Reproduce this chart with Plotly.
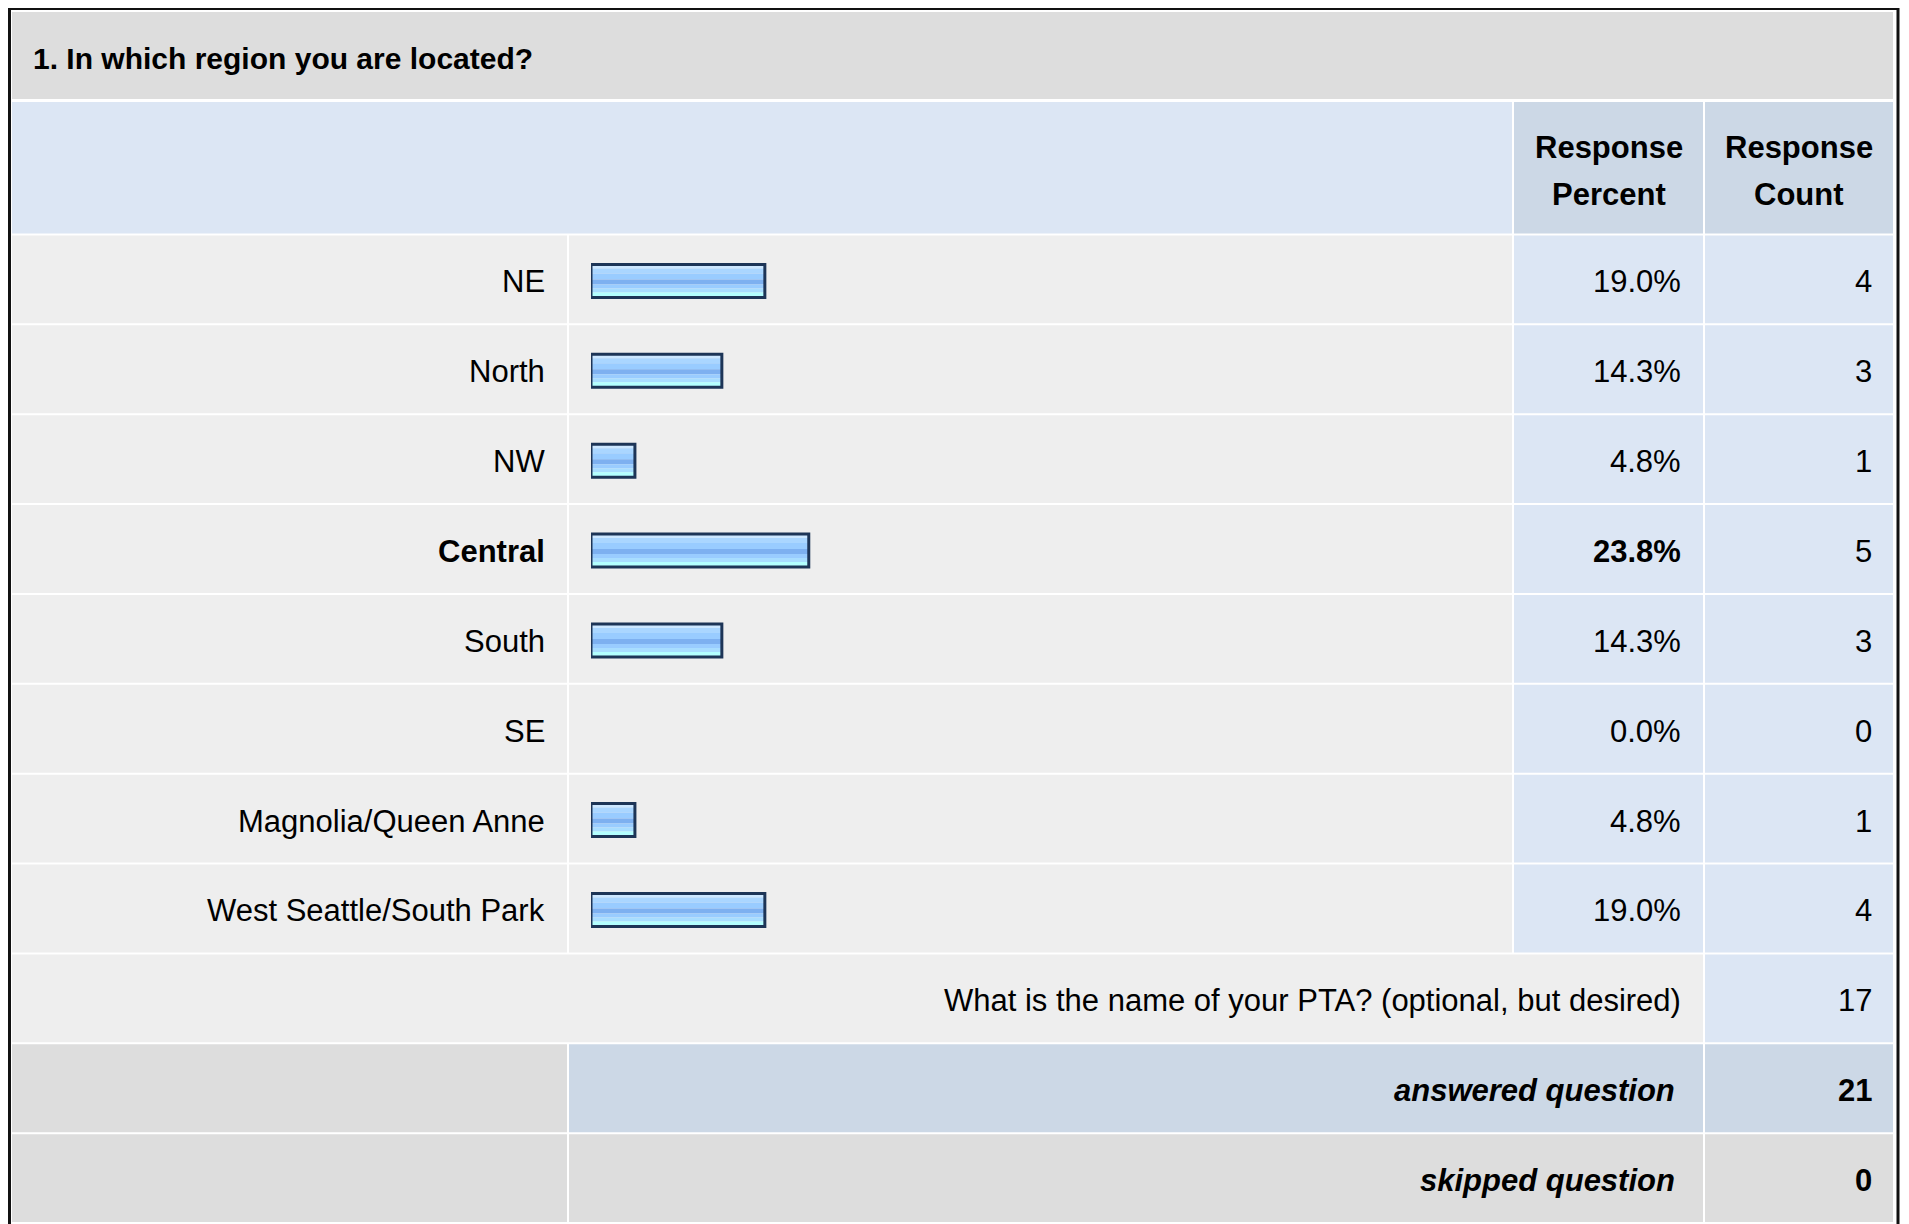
import plotly.graph_objects as go

# ---------------- data ----------------
title_text = "1. In which region you are located?"
header_percent = ["Response", "Percent"]
header_count = ["Response", "Count"]
categories = ["NE", "North", "NW", "Central", "South", "SE",
              "Magnolia/Queen Anne", "West Seattle/South Park"]
percent = [19.0, 14.3, 4.8, 23.8, 14.3, 0.0, 4.8, 19.0]
counts = [4, 3, 1, 5, 3, 0, 1, 4]
pta_question = "What is the name of your PTA? (optional, but desired)"
pta_count = 17
answered_label = "answered question"
answered_count = 21
skipped_label = "skipped question"
skipped_count = 0

# ---------------- geometry / style ----------------
WIN_W, WIN_H = 1909, 1224
OFF = 8  # default page body margin
W, H = WIN_W - OFF, WIN_H - OFF
FONT = "Liberation Sans, Arial, Helvetica, sans-serif"
FS = 31
FS_TITLE = 30

TITLE_BG = "#DDDDDD"
HEAD_BG = "#DCE6F4"
HEAD_DARK = "#CCD8E6"
ROW_BG = "#EEEEEE"
VAL_BG = "#DCE6F4"
GRAY = "#DDDDDD"
NAVY = "#1D3557"

colA = (12, 567)
colB = (569, 1512)
colC = (1514, 1703)
colD = (1705, 1893)

b0 = 234.5
step = (1223 - b0) / 11
bounds = [b0 + k * step for k in range(12)]

shapes = []


def px(x):
    return (x - OFF) / W


def py(y):
    return 1 - (y - OFF) / H


def cell(x0, x1, y0, y1, color):
    shapes.append(dict(type="rect", xref="paper", yref="paper",
                       x0=px(x0), x1=px(x1), y0=py(y1), y1=py(y0),
                       line=dict(width=0), fillcolor=color, layer="below"))


# title row
cell(12, 1893, 12, 99, TITLE_BG)
# header row
cell(colA[0], colB[1], 102, 233.5, HEAD_BG)
cell(colC[0], colC[1], 102, 233.5, HEAD_DARK)
cell(colD[0], colD[1], 102, 233.5, HEAD_DARK)

n = len(categories)
for i in range(n):
    y0, y1 = bounds[i] + 1, bounds[i + 1] - 1
    cell(colA[0], colA[1], y0, y1, ROW_BG)
    cell(colB[0], colB[1], y0, y1, ROW_BG)
    cell(colC[0], colC[1], y0, y1, VAL_BG)
    cell(colD[0], colD[1], y0, y1, VAL_BG)

# PTA row
y0, y1 = bounds[n] + 1, bounds[n + 1] - 1
cell(colA[0], colC[1], y0, y1, ROW_BG)
cell(colD[0], colD[1], y0, y1, VAL_BG)
# answered row
y0, y1 = bounds[n + 1] + 1, bounds[n + 2] - 1
cell(colA[0], colA[1], y0, y1, GRAY)
cell(colB[0], colC[1], y0, y1, HEAD_DARK)
cell(colD[0], colD[1], y0, y1, HEAD_DARK)
# skipped row
y0, y1 = bounds[n + 2] + 1, bounds[n + 3] - 1
cell(colA[0], colA[1], y0, y1, GRAY)
cell(colB[0], colC[1], y0, y1, GRAY)
cell(colD[0], colD[1], y0, y1, GRAY)

# outer black frame
shapes.append(dict(type="rect", xref="paper", yref="paper",
                   x0=px(9.5), x1=px(1898), y0=py(1260), y1=py(8.5),
                   line=dict(width=3, color="#111111"),
                   fillcolor="rgba(0,0,0,0)", layer="above"))

# ---------------- bars ----------------
fig = go.Figure()
ys = list(range(n))
bands = [  # (top px from fill top, height px, colour)
    (0, 4, "#CCE7FF"),
    (4, 5, "#AAD6FF"),
    (9, 6, "#99CCFF"),
    (15, 5, "#7DB0F0"),
    (20, 4, "#99CCFF"),
    (24, 4, "#A8DDFF"),
    (28, 5, "#B3FFFF"),
]
fill_top = -15.0  # px relative to row centre
fill_h = 33.0
for t, h, c in bands:
    fig.add_trace(go.Bar(
        x=percent, y=ys, orientation="h",
        offset=(fill_top + t) / step, width=h / step,
        marker=dict(color=c, line=dict(width=0)),
        showlegend=False, hoverinfo="skip"))
fig.add_trace(go.Bar(
    x=[p if p > 0 else None for p in percent], y=ys, orientation="h",
    offset=fill_top / step, width=fill_h / step,
    marker=dict(color="rgba(0,0,0,0)", line=dict(width=3, color=NAVY)),
    showlegend=False, hoverinfo="skip"))

# ---------------- text ----------------
ann = []
RX = 3  # compensation for annotation padding


def text(x, y, s, anchor="right", size=FS):
    if anchor == "right":
        x = x + RX
    ann.append(dict(xref="paper", yref="paper", x=px(x), y=py(y), text=s,
                    xanchor=anchor, yanchor="middle", showarrow=False,
                    font=dict(family=FONT, size=size, color="#000000")))


text(31, 58, "<b>%s</b>" % title_text, anchor="left", size=FS_TITLE)
text((colC[0] + colC[1]) / 2, 147, "<b>%s</b>" % header_percent[0], anchor="center")
text((colC[0] + colC[1]) / 2, 194, "<b>%s</b>" % header_percent[1], anchor="center")
text((colD[0] + colD[1]) / 2, 147, "<b>%s</b>" % header_count[0], anchor="center")
text((colD[0] + colD[1]) / 2, 194, "<b>%s</b>" % header_count[1], anchor="center")

pmax = max(percent)
for i, (cat, p, c) in enumerate(zip(categories, percent, counts)):
    yc = (bounds[i] + bounds[i + 1]) / 2 + 2.5
    bold = p == pmax
    lab = "<b>%s</b>" % cat if bold else cat
    pl = "%.1f%%" % p
    pl = "<b>%s</b>" % pl if bold else pl
    text(544, yc, lab)
    text(1680, yc, pl)
    text(1871, yc, str(c))

yc = (bounds[n] + bounds[n + 1]) / 2 + 2.5
text(1680, yc, pta_question)
text(1871, yc, str(pta_count))
yc = (bounds[n + 1] + bounds[n + 2]) / 2 + 2.5
text(1674, yc, "<b><i>%s</i></b>" % answered_label)
text(1871, yc, "<b>%s</b>" % answered_count)
yc = (bounds[n + 2] + bounds[n + 3]) / 2 + 2.5
text(1674, yc, "<b><i>%s</i></b>" % skipped_label)
text(1871, yc, "<b>%s</b>" % skipped_count)

fig.update_layout(
    width=W, height=H,
    margin=dict(l=0, r=0, t=0, b=0),
    paper_bgcolor="#FFFFFF", plot_bgcolor="rgba(0,0,0,0)",
    barmode="overlay",
    shapes=shapes, annotations=ann,
    xaxis=dict(domain=[px(591), px(1506)], range=[0, 100], visible=False,
               fixedrange=True),
    yaxis=dict(domain=[py(bounds[n]), py(bounds[0])], range=[n - 0.5, -0.5],
               visible=False, fixedrange=True),
)

fig.write_html("out.html", config={"displayModeBar": False})
